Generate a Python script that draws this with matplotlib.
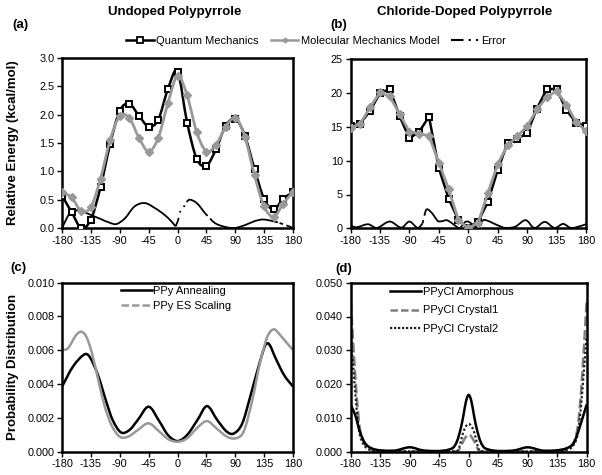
import numpy as np
import matplotlib
matplotlib.use("Agg")
import matplotlib.pyplot as plt
from matplotlib.path import Path
from matplotlib.patches import PathPatch
from matplotlib.lines import Line2D

plt.rcParams["font.family"] = ["Liberation Sans", "DejaVu Sans"]
plt.rcParams["axes.unicode_minus"] = False

# ---- data ----
angle = [-180, -165, -150, -135, -120, -105, -90, -75, -60, -45, -30, -15, 0,
         15, 30, 45, 60, 75, 90, 105, 120, 135, 150, 165, 180]

# (a) undoped, kcal/mol
qm_a = [0.57, 0.28, 0.00, 0.15, 0.72, 1.48, 2.07, 2.19, 1.98, 1.79, 1.91, 2.45, 2.76,
        1.86, 1.22, 1.10, 1.39, 1.80, 1.93, 1.63, 1.04, 0.51, 0.33, 0.52, 0.63]
mm_a = [0.63, 0.54, 0.30, 0.37, 0.87, 1.55, 1.98, 1.94, 1.59, 1.35, 1.59, 2.20, 2.69,
        2.34, 1.69, 1.35, 1.47, 1.78, 1.95, 1.61, 0.93, 0.38, 0.20, 0.43, 0.64]
err_a_x = [-180, -168, -158, -150, -135, -120, -105, -95, -82, -67, -51, -35, -20, -9, -3,
           1, 5, 9, 14, 19, 30, 43, 58, 74, 89, 105, 120, 133, 149, 164, 180]
err_a = [0.0, 0.26, 0.31, 0.30, 0.23, 0.16, 0.09, 0.07, 0.17, 0.38, 0.44, 0.35, 0.23, 0.11, 0.03,
         0.14, 0.32, 0.36, 0.46, 0.50, 0.44, 0.26, 0.09, 0.02, 0.0, 0.05, 0.12, 0.15, 0.12, 0.07, 0.0]

# (b) chloride-doped, kcal/mol
qm_b = [15.1, 15.5, 17.4, 20.0, 20.6, 16.6, 13.3, 14.3, 16.5, 8.9, 4.4, 1.2, 0.0,
        1.0, 3.9, 8.6, 12.6, 13.2, 14.1, 17.7, 20.6, 20.6, 17.5, 15.6, 15.1]
mm_b = [14.8, 15.5, 17.9, 20.1, 19.5, 16.9, 14.3, 14.0, 13.7, 9.7, 5.8, 1.2, 0.0,
        0.8, 5.2, 9.5, 12.3, 13.6, 15.1, 17.6, 19.4, 20.3, 18.3, 15.7, 14.4]
err_b_x = [-180, -171, -153, -140, -120, -102, -90, -77, -70, -65, -62, -55, -50, -46, -40,
           -33, -27, -20, -13, -5, 0, 6, 13, 23, 30, 38, 45, 57, 72, 88, 101, 117, 132,
           145, 157, 172, 180]
err_b = [0.4, 0.15, 0.6, 0.05, 1.0, 0.1, 1.0, 0.05, 0.7, 2.6, 2.8, 2.2, 1.5, 1.0, 1.05,
         1.2, 0.9, 0.4, 0.05, 0.9, 1.0, 0.6, 0.2, 1.2, 1.1, 0.75, 0.45, 0.05, 0.25, 1.2, 0.05,
         0.95, 0.05, 0.65, 0.05, 0.35, 0.6]

# (c) undoped probability distributions (x 1e-3)
ann_x = [-180, -163, -145, -137, -124, -111, -101, -88, -75, -62, -45, -28, -15, 0,
         15, 31, 46, 62, 77, 88, 101, 114, 127, 137, 143, 153, 166, 180]
ann = [3.85, 5.03, 5.76, 5.62, 4.54, 2.96, 1.87, 1.14, 1.28, 1.87, 2.66, 1.78, 0.99, 0.63,
       0.99, 1.87, 2.70, 1.87, 1.18, 1.08, 1.68, 3.35, 5.13, 6.31, 6.35, 5.52, 4.54, 3.85]
es_x = [-180, -171, -158, -150, -142, -134, -124, -114, -103, -90, -77, -62, -45, -28, -15, 0,
        15, 31, 46, 62, 77, 90, 103, 116, 129, 140, 150, 160, 171, 180]
es = [6.02, 6.11, 6.90, 7.10, 6.80, 5.92, 4.34, 2.76, 1.58, 0.89, 0.89, 1.28, 1.68, 1.18, 0.75, 0.59,
      0.79, 1.42, 1.81, 1.34, 0.89, 0.79, 1.18, 2.96, 5.33, 6.80, 7.24, 6.90, 6.41, 6.02]

# (d) doped probability distributions (x 1e-3)
am_x = [-180, -173, -166, -158, -148, -135, -115, -90, -70, -50, -25, -18, -12, -8, -4, 0,
        4, 8, 12, 18, 25, 50, 70, 90, 115, 134, 149, 160, 167, 175, 180]
am = [13.8, 10.8, 5.9, 2.5, 1.0, 0.4, 0.3, 1.3, 0.4, 0.2, 1.0, 3.0, 7.0, 10.8, 15.0, 16.8,
      15.0, 10.8, 7.0, 3.0, 1.0, 0.2, 0.4, 1.3, 0.3, 0.4, 1.0, 2.5, 5.9, 10.8, 14.0]
c1_x = [-180, -176, -171, -166, -158, -148, -135, -20, -15, -11, -6, 0, 6, 11, 15, 20,
        135, 148, 158, 166, 171, 176, 180]
c1 = [44.5, 31.6, 16.8, 6.9, 2.0, 0.5, 0.1, 0.1, 0.5, 2.0, 3.9, 5.1, 3.9, 2.0, 0.5, 0.1,
      0.1, 0.5, 2.0, 6.9, 16.8, 31.6, 45.0]
c2_x = [-180, -176, -171, -166, -158, -148, -135, -20, -15, -11, -6, 0, 6, 11, 15, 20,
        135, 148, 158, 166, 171, 176, 180]
c2 = [34.0, 24.7, 12.8, 4.9, 1.5, 0.4, 0.1, 0.1, 0.8, 3.9, 6.9, 8.2, 6.9, 3.9, 0.8, 0.1,
      0.1, 0.4, 1.5, 4.9, 12.8, 24.7, 34.0]

GREY = "#999999"


def smooth_path(x, y, limit=False):
    """Cubic Hermite curve through the points, as a Bezier path."""
    x = np.asarray(x, float)
    y = np.asarray(y, float)
    n = len(x)
    sec = np.diff(y) / np.diff(x)
    m = np.empty(n)
    m[0], m[-1] = sec[0], sec[-1]
    m[1:-1] = (y[2:] - y[:-2]) / (x[2:] - x[:-2])
    if limit:
        m[1:-1][sec[:-1] * sec[1:] <= 0] = 0
    verts = [(x[0], y[0])]
    codes = [Path.MOVETO]
    for i in range(n - 1):
        h = x[i + 1] - x[i]
        verts += [(x[i] + h / 3, y[i] + m[i] * h / 3),
                  (x[i + 1] - h / 3, y[i + 1] - m[i + 1] * h / 3),
                  (x[i + 1], y[i + 1])]
        codes += [Path.CURVE4] * 3
    return Path(verts, codes)


def curve(ax, x, y, limit=False, **kw):
    ax.add_patch(PathPatch(smooth_path(x, y, limit), fill=False, **kw))


def style(ax, ymax, ystep, fmt):
    ax.set_xlim(-180, 180)
    ax.set_ylim(0, ymax)
    ax.set_xticks(range(-180, 181, 45))
    ax.set_yticks(np.arange(0, ymax + ystep / 2, ystep))
    ax.yaxis.set_major_formatter(plt.FormatStrFormatter(fmt))
    ax.tick_params(direction="out", length=3.5, width=1, labelsize=7.8, pad=2)
    for s in ax.spines.values():
        s.set_linewidth(1.8)


fig = plt.figure(figsize=(6.02, 4.75), dpi=100)
ax_a = fig.add_axes([62 / 602, 1 - 228 / 475, 231 / 602, 170 / 475])
ax_b = fig.add_axes([350.5 / 602, 1 - 228.3 / 475, 235.5 / 602, 169 / 475])
ax_c = fig.add_axes([62 / 602, 1 - 451.7 / 475, 231 / 602, 169 / 475])
ax_d = fig.add_axes([350.7 / 602, 1 - 451.7 / 475, 236 / 602, 169 / 475])

err_kw = dict(color="black", lw=1.3, zorder=2)

# (a)
curve(ax_a, angle, qm_a, color="black", lw=1.8, zorder=3)
ax_a.plot(angle, qm_a, ls="none", marker="s", ms=4.8, mfc="white", mec="black", mew=1.4, zorder=4)
curve(ax_a, angle, mm_a, color=GREY, lw=2.0, zorder=5)
ax_a.plot(angle, mm_a, ls="none", marker="D", ms=3.8, mfc=GREY, mec=GREY, zorder=6)
# error line: long dashes look solid except where the curve is steep
curve(ax_a, err_a_x[:15], err_a[:15], **err_kw)
curve(ax_a, err_a_x[14:19], err_a[14:19], linestyle=(0, (5, 3, 1, 3, 1, 3)), **err_kw)
curve(ax_a, err_a_x[18:22], err_a[18:22], **err_kw)
curve(ax_a, err_a_x[21:], err_a[21:], linestyle=(0, (2, 2, 40, 1)), **err_kw)
style(ax_a, 3.0, 0.5, "%.1f")

# (b)
ax_b.plot(angle, qm_b, color="black", lw=1.8, marker="s", ms=4.8, mfc="white", mec="black",
          mew=1.4, zorder=3)
ax_b.plot(angle, mm_b, color=GREY, lw=2.0, marker="D", ms=3.8, mfc=GREY, mec=GREY, zorder=5)
curve(ax_b, err_b_x[:9], err_b[:9], **err_kw)
curve(ax_b, err_b_x[8:14], err_b[8:14], linestyle=(0, (2, 2.5, 14, 3.5)), **err_kw)
curve(ax_b, err_b_x[13:], err_b[13:], **err_kw)
style(ax_b, 25, 5, "%d")

# (c)
curve(ax_c, ann_x, np.array(ann) / 1000, color="black", lw=1.8)
curve(ax_c, es_x, np.array(es) / 1000, color=GREY, lw=1.8)
style(ax_c, 0.010, 0.002, "%.3f")

# (d)
curve(ax_d, am_x, np.array(am) / 1000, limit=True, color="black", lw=1.8, zorder=3)
curve(ax_d, c1_x, np.array(c1) / 1000, limit=True, color="#808080", lw=1.8,
      linestyle=(0, (4, 1.5)), zorder=2)
curve(ax_d, c2_x, np.array(c2) / 1000, limit=True, color="#222222", lw=1.6,
      linestyle=(0, (1, 1)), zorder=2)
style(ax_d, 0.050, 0.010, "%.3f")

# legends
top_handles = [
    Line2D([], [], color="black", lw=1.8, marker="s", ms=4.5, mfc="white", mec="black", mew=1.3),
    Line2D([], [], color=GREY, lw=1.8, marker="D", ms=2.5, mfc=GREY, mec=GREY),
    Line2D([], [], color="black", lw=1.5, linestyle=(0, (6, 2.5, 1, 2.5, 1, 2.5))),
]
fig.legend(top_handles, ["Quantum Mechanics", "Molecular Mechanics Model", "Error"],
           loc="center", bbox_to_anchor=(0.525, 1 - 41 / 475), ncol=3, frameon=False,
           fontsize=8, handlelength=2.5, handletextpad=0.2, columnspacing=1.1)

c_handles = [Line2D([], [], color="black", lw=1.8),
             Line2D([], [], color=GREY, lw=1.8, linestyle=(0, (3, 1.2)))]
ax_c.legend(c_handles, ["PPy Annealing", "PPy ES Scaling"], loc="upper left",
            bbox_to_anchor=(0.22, 1.025), frameon=False, fontsize=8, handlelength=2.8,
            handletextpad=0.1, labelspacing=0.45, borderpad=0.2)

d_handles = [Line2D([], [], color="black", lw=1.8),
             Line2D([], [], color="#808080", lw=1.8, linestyle=(0, (3, 1.2))),
             Line2D([], [], color="#222222", lw=1.6, linestyle=(0, (1, 0.8)))]
ax_d.legend(d_handles, ["PPyCl Amorphous", "PPyCl Crystal1", "PPyCl Crystal2"],
            loc="upper left", bbox_to_anchor=(0.135, 1.02), frameon=False, fontsize=8,
            handlelength=2.8, handletextpad=0.1, labelspacing=0.75, borderpad=0.2)

# titles and labels
bold = dict(fontsize=9.5, fontweight="bold")
fig.text(175 / 602, 1 - 12 / 475, "Undoped Polypyrrole", ha="center", va="center", **bold)
fig.text(465 / 602, 1 - 12 / 475, "Chloride-Doped Polypyrrole", ha="center", va="center", **bold)
fig.text(12 / 602, 1 - 25 / 475, "(a)", ha="left", va="center", **bold)
fig.text(330 / 602, 1 - 25 / 475, "(b)", ha="left", va="center", **bold)
fig.text(10 / 602, 1 - 268 / 475, "(c)", ha="left", va="center", **bold)
fig.text(335 / 602, 1 - 269 / 475, "(d)", ha="left", va="center", **bold)
fig.text(13 / 602, 1 - 143 / 475, "Relative Energy (kcal/mol)", rotation=90,
         ha="center", va="center", **bold)
fig.text(13 / 602, 1 - 367 / 475, "Probability Distribution", rotation=90,
         ha="center", va="center", **bold)

fig.savefig("out.png", dpi=100)
